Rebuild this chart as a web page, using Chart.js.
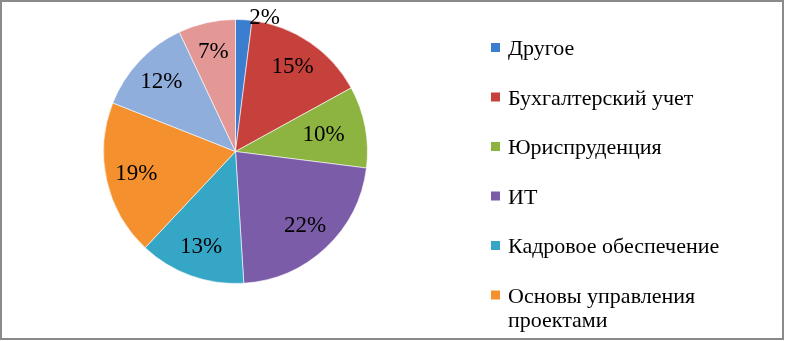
<!DOCTYPE html>
<html>
<head>
<meta charset="utf-8">
<script src="https://cdn.jsdelivr.net/npm/chart.js@4/dist/chart.umd.min.js"></script>
<style>
  html, body { margin: 0; padding: 0; background: #fff; }
  #wrap { position: relative; width: 785px; height: 341px; }
  canvas { display: block; }
</style>
</head>
<body>
<div id="wrap"><canvas id="c" width="785" height="341"></canvas></div>
<script>
// ---- data ----
const categories = ["Другое", "Бухгалтерский учет", "Юриспруденция", "ИТ", "Кадровое обеспечение", "Основы управления проектами", "", ""];
const legendLabels = ["Другое", "Бухгалтерский учет", "Юриспруденция", "ИТ", "Кадровое обеспечение", ["Основы управления", "проектами"]];
const shares = [2, 15, 10, 22, 13, 19, 12, 7];
const sliceColors = ["#3B7DCF", "#C6413C", "#8DB440", "#7B5CA8", "#36A6C6", "#F5902F", "#8FAEDC", "#E39896"];

const serif = '"Liberation Serif", "Times New Roman", serif';

const frame = {
  id: 'frame',
  beforeDraw(chart) {
    const ctx = chart.ctx;
    ctx.save();
    ctx.fillStyle = '#fff';
    ctx.fillRect(0, 0, chart.width, chart.height);
    ctx.strokeStyle = '#8a8a8a';
    ctx.lineWidth = 2;
    ctx.strokeRect(1, 1, 782, 338);
    ctx.restore();
  }
};

const sliceLabels = {
  id: 'sliceLabels',
  afterDatasetsDraw(chart) {
    const ctx = chart.ctx;
    const meta = chart.getDatasetMeta(0);
    ctx.save();
    ctx.font = '23px ' + serif;
    ctx.fillStyle = '#000';
    ctx.textBaseline = 'middle';
    meta.data.forEach((arc, i) => {
      const v = shares[i];
      const mid = (arc.startAngle + arc.endAngle) / 2;
      const R = arc.outerRadius;
      if (v < 5) {
        const d = R + 6;
        const x = arc.x + Math.cos(mid) * d;
        const y = arc.y + Math.sin(mid) * d;
        ctx.textAlign = 'left';
        ctx.fillText(v + '%', x + 5, y + 4);
      } else {
        const d = R * (i === 2 ? 0.68 : 0.77);
        const x = arc.x + Math.cos(mid) * d;
        const y = arc.y + Math.sin(mid) * d;
        ctx.textAlign = 'center';
        ctx.fillText(v + '%', x, y);
      }
    });
    ctx.restore();
  }
};

const sideLegend = {
  id: 'sideLegend',
  afterDraw(chart) {
    const ctx = chart.ctx;
    ctx.save();
    ctx.font = '22px ' + serif;
    ctx.fillStyle = '#000';
    ctx.textAlign = 'left';
    ctx.textBaseline = 'alphabetic';
    const x0 = 491, tx = 508, step = 49.5, firstBase = 55;
    legendLabels.forEach((lab, i) => {
      const base = firstBase + i * step;
      ctx.fillStyle = sliceColors[i];
      ctx.fillRect(x0, base - 12, 9, 9);
      ctx.fillStyle = '#000';
      const lines = Array.isArray(lab) ? lab : [lab];
      lines.forEach((ln, j) => ctx.fillText(ln, tx, base + j * 24));
    });
    ctx.restore();
  }
};

new Chart(document.getElementById('c'), {
  type: 'pie',
  data: {
    labels: categories,
    datasets: [{
      data: shares,
      backgroundColor: sliceColors,
      borderColor: 'rgba(255,255,255,0.6)',
      borderWidth: 1
    }]
  },
  options: {
    responsive: false,
    animation: false,
    layout: { padding: { left: 103, top: 19, right: 417, bottom: 57 } },
    plugins: {
      legend: { display: false },
      tooltip: { enabled: false }
    }
  },
  plugins: [frame, sliceLabels, sideLegend]
});
</script>
</body>
</html>
